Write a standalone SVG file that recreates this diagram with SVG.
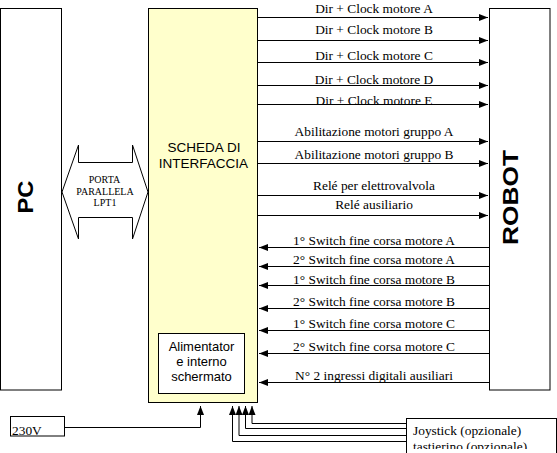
<svg xmlns="http://www.w3.org/2000/svg" width="557" height="453" viewBox="0 0 557 453">
<style>
.box{fill:#fff;stroke:#000;stroke-width:1}
.ifc{fill:#ffffcc;stroke:#000;stroke-width:1}
.ln{stroke:#000;stroke-width:1;fill:none}
.lbl{font-family:"Liberation Serif","Times New Roman",serif;font-size:13.4px;fill:#000;text-anchor:middle}
.sm{font-family:"Liberation Serif","Times New Roman",serif;font-size:10px;fill:#000;text-anchor:middle}
.sans{font-family:"Liberation Sans",Arial,sans-serif;font-size:13.5px;fill:#000;text-anchor:middle}
.big{font-family:"Liberation Sans",Arial,sans-serif;font-size:22px;font-weight:bold;fill:#000;text-anchor:middle}
</style>
<defs>
<marker id="ah" markerUnits="userSpaceOnUse" markerWidth="9" markerHeight="7" refX="9" refY="3.5" orient="auto"><path d="M0,0 L9,3.5 L0,7 z" fill="#000"/></marker>
<clipPath id="joyclip"><rect x="407" y="419" width="149" height="30"/></clipPath>
<clipPath id="vclip"><rect x="11" y="426" width="53" height="10"/></clipPath>
</defs>

<g id="pc">
<rect class="box" x="0.5" y="8.5" width="61" height="381.5"/>
<text class="big" transform="translate(33,197) rotate(-90)" textLength="33" lengthAdjust="spacingAndGlyphs">PC</text>
</g>

<g id="porta">
<polygon class="box" points="62,192 78.5,145 78.5,162.5 132.5,162.5 132.5,145 148,192 132.5,239 132.5,217.5 78.5,217.5 78.5,239"/>
<text class="sm" x="104.5" y="183">PORTA</text>
<text class="sm" x="105" y="194.5">PARALLELA</text>
<text class="sm" x="105" y="206">LPT1</text>
</g>

<g id="scheda">
<rect class="ifc" x="148.5" y="8.5" width="109" height="394"/>
<text class="sans" x="204" y="151.5">SCHEDA DI</text>
<text class="sans" x="203.5" y="167.5">INTERFACCIA</text>
</g>

<g id="alimentatore">
<rect class="box" x="158.5" y="333.5" width="86" height="60"/>
<text class="sans" x="201.5" y="350.5" style="font-size:13px">Alimentator</text>
<text class="sans" x="201.5" y="366" style="font-size:13px">e interno</text>
<text class="sans" x="201.5" y="381" style="font-size:13px">schermato</text>
</g>

<g id="robot">
<rect class="box" x="489.5" y="8.5" width="60.5" height="381.5"/>
<text class="big" transform="translate(518,197.5) rotate(-90)" textLength="95" lengthAdjust="spacingAndGlyphs">ROBOT</text>
</g>

<g id="v230">
<rect class="box" x="10.5" y="416.5" width="54" height="19.5"/>
<text class="lbl" x="12" y="434.5" style="text-anchor:start" clip-path="url(#vclip)">230V</text>
</g>

<g id="joystick">
<rect class="box" x="406.5" y="418.5" width="150" height="40"/>
<g clip-path="url(#joyclip)">
<text class="lbl" x="413" y="435" style="text-anchor:start">Joystick (opzionale)</text>
<text class="lbl" x="413" y="451" style="text-anchor:start">tastierino (opzionale)</text>
</g>
</g>

<g id="connectors">
<g class="ln" marker-end="url(#ah)">
<line x1="258" y1="17.5" x2="488" y2="17.5"/>
<line x1="258" y1="40.5" x2="488" y2="40.5"/>
<line x1="258" y1="62.5" x2="488" y2="62.5"/>
<line x1="258" y1="85.5" x2="488" y2="85.5"/>
<line x1="258" y1="104.5" x2="488" y2="104.5"/>
<line x1="258" y1="141.5" x2="488" y2="141.5"/>
<line x1="258" y1="163.5" x2="488" y2="163.5"/>
<line x1="258" y1="195.5" x2="488" y2="195.5"/>
<line x1="258" y1="215.5" x2="488" y2="215.5"/>
<line x1="489" y1="247.5" x2="259" y2="247.5"/>
<line x1="489" y1="266.5" x2="259" y2="266.5"/>
<line x1="489" y1="285.5" x2="259" y2="285.5"/>
<line x1="489" y1="308.5" x2="259" y2="308.5"/>
<line x1="489" y1="330.5" x2="259" y2="330.5"/>
<line x1="489" y1="353.5" x2="259" y2="353.5"/>
<line x1="489" y1="382.5" x2="259" y2="382.5"/>
<polyline points="65,427.5 200.5,427.5 200.5,406"/>
<polyline points="406,423.5 252,423.5 252,406"/>
<polyline points="406,428.5 245.5,428.5 245.5,406"/>
<polyline points="406,435.5 239,435.5 239,406"/>
<polyline points="406,441.5 232.5,441.5 232.5,406"/>
</g>
<g>
<text class="lbl" x="374" y="12.5">Dir + Clock motore A</text>
<text class="lbl" x="374" y="34">Dir + Clock motore B</text>
<text class="lbl" x="374" y="60">Dir + Clock motore C</text>
<text class="lbl" x="374" y="84">Dir + Clock motore D</text>
<text class="lbl" x="374" y="105">Dir + Clock motore E</text>
<text class="lbl" x="374" y="136">Abilitazione motori gruppo A</text>
<text class="lbl" x="374" y="159">Abilitazione motori gruppo B</text>
<text class="lbl" x="374" y="190">Relé per elettrovalvola</text>
<text class="lbl" x="374" y="208.5">Relé ausiliario</text>
<text class="lbl" x="374" y="245">1° Switch fine corsa motore A</text>
<text class="lbl" x="374" y="264">2° Switch fine corsa motore A</text>
<text class="lbl" x="374" y="283.5">1° Switch fine corsa motore B</text>
<text class="lbl" x="374" y="306">2° Switch fine corsa motore B</text>
<text class="lbl" x="374" y="328">1° Switch fine corsa motore C</text>
<text class="lbl" x="374" y="351">2° Switch fine corsa motore C</text>
<text class="lbl" x="374" y="380">N° 2 ingressi digitali ausiliari</text>
</g>
</g>
</svg>
